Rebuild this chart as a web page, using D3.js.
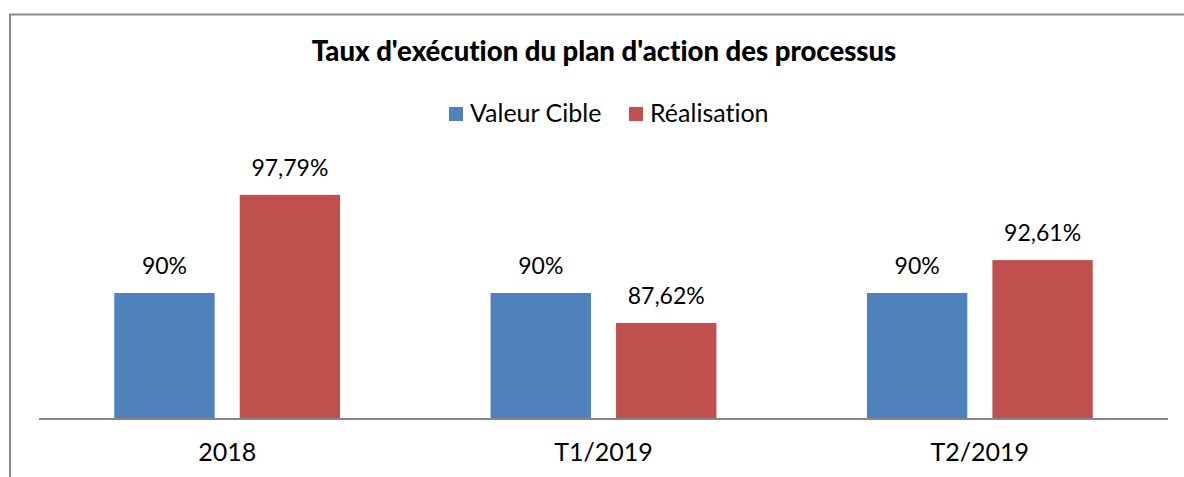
<!DOCTYPE html>
<html>
<head>
<meta charset="utf-8">
<script src="https://cdn.jsdelivr.net/npm/d3@7"></script>
<style>
  body { margin: 0; background: #fff; }
  svg { display: block; font-family: Lato, "Open Sans", sans-serif; font-variant-ligatures: none; font-feature-settings: "liga" 0, "dlig" 0; }
</style>
</head>
<body>
<svg id="chart"></svg>
<script>
const categories = ["2018", "T1/2019", "T2/2019"]
const seriesNames = ["Valeur Cible", "Réalisation"]
const valeurCible = [90, 90, 90]
const realisation = [97.79, 87.62, 92.61]
const valueLabels = [["90%", "90%", "90%"], ["97,79%", "87,62%", "92,61%"]]
const colors = ["#4F81BD", "#C0504D"]

const W = 1184, H = 477
const plot = { left: 39, right: 1168, top: 167, bottom: 419 }

const svg = d3.select("#chart").attr("width", W).attr("height", H)

// chart area frame (cut off on the right and bottom in the original)
svg.append("rect")
  .attr("x", 10).attr("y", 14.5)
  .attr("width", W + 20).attr("height", H + 20)
  .attr("fill", "none").attr("stroke", "#8a8a8a").attr("stroke-width", 2)

svg.append("text")
  .attr("x", 604).attr("y", 61)
  .attr("text-anchor", "middle")
  .style("font-weight", "900").style("font-size", "27.5px")
  .text("Taux d'exécution du plan d'action des processus")

const x0 = d3.scaleBand().domain(categories).range([plot.left, plot.right])
const x1 = d3.scaleBand().domain(seriesNames).range([0, x0.bandwidth()])
  .paddingInner(0.2).paddingOuter(0.6)
const y = d3.scaleLinear().domain([80, 100]).range([plot.bottom, plot.top])

const series = [valeurCible, realisation]

const groups = svg.append("g").selectAll("g")
  .data(seriesNames)
  .join("g")
  .attr("fill", (d, i) => colors[i])

groups.selectAll("rect")
  .data((name, si) => categories.map((c, ci) => ({ cat: c, name, v: series[si][ci], label: valueLabels[si][ci] })))
  .join("rect")
  .attr("x", d => x0(d.cat) + x1(d.name))
  .attr("y", d => y(d.v))
  .attr("width", x1.bandwidth())
  .attr("height", d => plot.bottom - y(d.v))

groups.selectAll("text")
  .data((name, si) => categories.map((c, ci) => ({ cat: c, name, v: series[si][ci], label: valueLabels[si][ci] })))
  .join("text")
  .attr("x", d => x0(d.cat) + x1(d.name) + x1.bandwidth() / 2)
  .attr("y", d => y(d.v) - 19)
  .attr("text-anchor", "middle")
  .attr("fill", "#000")
  .style("font-size", "23px")
  .text(d => d.label)

// x axis
const xAxis = svg.append("g")
  .attr("transform", `translate(0,${plot.bottom})`)
  .call(d3.axisBottom(x0).tickSize(0).tickPadding(0))
xAxis.select(".domain").attr("stroke", "#868686").attr("stroke-width", 2)
  .attr("d", `M${plot.left},0H${plot.right}`)
xAxis.selectAll("text")
  .attr("y", 42).attr("dy", null)
  .attr("fill", "#000")
  .style("font-size", "25px").style("font-family", "Lato, 'Open Sans', sans-serif")

// legend
const legendX = [449, 629]
const legend = svg.append("g").selectAll("g")
  .data(seriesNames)
  .join("g")
  .attr("transform", (d, i) => `translate(${legendX[i]},107)`)
legend.append("rect")
  .attr("width", 14).attr("height", 14)
  .attr("fill", (d, i) => colors[i])
legend.append("text")
  .attr("x", 21).attr("y", 15)
  .style("font-size", "25px")
  .text(d => d)
</script>
</body>
</html>
